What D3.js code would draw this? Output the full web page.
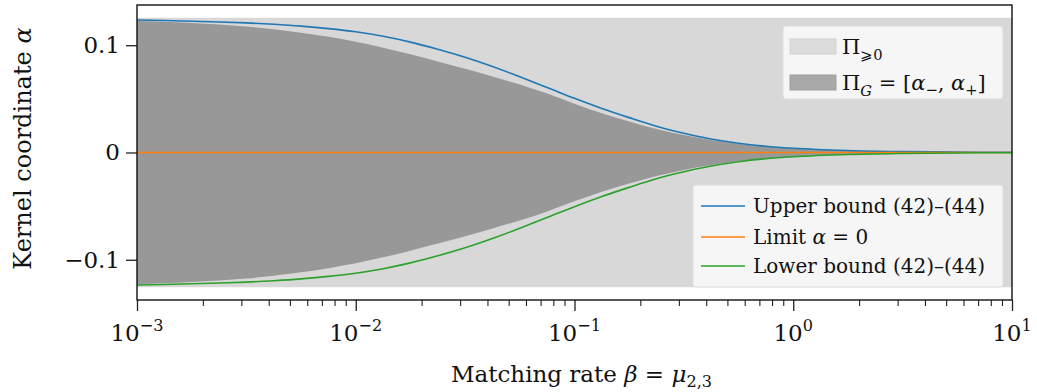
<!DOCTYPE html>
<html>
<head>
<meta charset="utf-8">
<script src="https://cdn.jsdelivr.net/npm/d3@7"></script>
<style>
  html, body { margin: 0; padding: 0; background: #ffffff; }
  svg { display: block; }
  svg text { font-family: "DejaVu Serif"; fill: #111; }
</style>
</head>
<body>
<svg id="chart" width="1037" height="392"></svg>
<script>
// ---------------- data ----------------
const beta = [0.001, 0.001334, 0.001778, 0.002371, 0.003162, 0.004217, 0.005623, 0.007499,
  0.01, 0.01334, 0.01778, 0.02371, 0.03162, 0.04217, 0.05623, 0.07499,
  0.1, 0.1334, 0.1778, 0.2371, 0.3162, 0.4217, 0.5623, 0.7499,
  1, 1.778, 3.162, 5.623, 10];
const upperBound = [0.1235, 0.1230, 0.1224, 0.1217, 0.1208, 0.1195, 0.1178, 0.1155,
  0.1125, 0.1083, 0.1029, 0.0963, 0.0888, 0.0802, 0.0706, 0.0606,
  0.0505, 0.0410, 0.0325, 0.0245, 0.0180, 0.0126, 0.0086, 0.0058,
  0.0040, 0.0019, 0.0009, 0.0004, 0.0002];
const lowerBound = [-0.1235, -0.1230, -0.1224, -0.1217, -0.1208, -0.1195, -0.1178, -0.1155,
  -0.1125, -0.1083, -0.1029, -0.0963, -0.0888, -0.0802, -0.0706, -0.0606,
  -0.0505, -0.0410, -0.0325, -0.0245, -0.0180, -0.0126, -0.0086, -0.0058,
  -0.0040, -0.0019, -0.0009, -0.0004, -0.0002];
const alphaPlus = [0.1226, 0.1219, 0.1208, 0.1194, 0.1175, 0.1149, 0.1117, 0.1078,
  0.1032, 0.0977, 0.0915, 0.0849, 0.0780, 0.0708, 0.0633, 0.0549,
  0.0455, 0.0366, 0.0290, 0.0220, 0.0162, 0.0117, 0.0081, 0.0056,
  0.0039, 0.0019, 0.0009, 0.0004, 0.0002];
const alphaMinus = [-0.1226, -0.1219, -0.1208, -0.1194, -0.1175, -0.1149, -0.1117, -0.1078,
  -0.1032, -0.0977, -0.0915, -0.0849, -0.0780, -0.0708, -0.0633, -0.0549,
  -0.0455, -0.0366, -0.0290, -0.0220, -0.0162, -0.0117, -0.0081, -0.0056,
  -0.0039, -0.0019, -0.0009, -0.0004, -0.0002];
const limitAlpha = [0, 0, 0, 0, 0, 0, 0, 0, 0, 0, 0, 0, 0, 0, 0, 0, 0, 0, 0, 0, 0, 0, 0, 0, 0, 0, 0, 0, 0];
const piRange = [-0.1256, 0.1256];
const xTickValues = [0.001, 0.01, 0.1, 1, 10];
const xTickExponents = ["−3", "−2", "−1", "0", "1"];
const yTickValues = [-0.1, 0, 0.1];
const yTickLabels = ["−0.1", "0", "0.1"];
const xDomain = [0.001, 10];
const yDomain = [-0.1375, 0.1375];

// ---------------- layout ----------------
const L = 137, R = 1012, T = 5, B = 300;
const FS = 23, LFS = 20;
const FONT = "DejaVu Serif";
const svg = d3.select("#chart");

const x = d3.scaleLog().domain(xDomain).range([L, R]);
const y = d3.scaleLinear().domain(yDomain).range([B, T]);

const rows = beta.map((b, i) => ({
  b, up: upperBound[i], lo: lowerBound[i], ap: alphaPlus[i], am: alphaMinus[i], lim: limitAlpha[i]
}));

const curve = d3.curveMonotoneX;

svg.append("rect")
  .attr("x", x(xDomain[0])).attr("width", x(xDomain[1]) - x(xDomain[0]))
  .attr("y", y(piRange[1])).attr("height", y(piRange[0]) - y(piRange[1]))
  .attr("fill", "#d8d8d8");

svg.append("path").datum(rows)
  .attr("fill", "#989898")
  .attr("d", d3.area().curve(curve).x(d => x(d.b)).y0(d => y(d.am)).y1(d => y(d.ap)));

const lineDefs = [
  {key: "up", color: "#1f77b4"},
  {key: "lim", color: "#ff7f0e"},
  {key: "lo", color: "#2ca02c"}
];
lineDefs.forEach(ld => {
  svg.append("path").datum(rows)
    .attr("fill", "none")
    .attr("stroke", ld.color)
    .attr("stroke-width", 1.6)
    .attr("d", d3.line().curve(curve).x(d => x(d.b)).y(d => y(d[ld.key])));
});

// ---------------- axes ----------------
const xAxis = svg.append("g").attr("transform", `translate(0,${B})`)
  .call(d3.axisBottom(x).tickValues(xTickValues).tickSize(11).tickFormat(""));
xAxis.select(".domain").remove();
xAxis.selectAll("line").attr("stroke", "#222").attr("stroke-width", 1.3);

const minor = [];
for (let e = -3; e < 1; e++) for (let k = 2; k <= 9; k++) minor.push(k * Math.pow(10, e));
const xMinor = svg.append("g").attr("transform", `translate(0,${B})`)
  .call(d3.axisBottom(x).tickValues(minor).tickSize(6).tickFormat(""));
xMinor.select(".domain").remove();
xMinor.selectAll("line").attr("stroke", "#222").attr("stroke-width", 1.1);

xTickValues.forEach((v, i) => {
  const t = svg.append("text")
    .attr("x", x(v)).attr("y", 341)
    .attr("text-anchor", "middle")
    .attr("font-family", FONT)
    .attr("font-size", FS);
  t.append("tspan").text("10");
  t.append("tspan").attr("dy", -10).attr("font-size", FS * 0.7).text(xTickExponents[i]);
});

const yAxis = svg.append("g").attr("transform", `translate(${L},0)`)
  .call(d3.axisLeft(y).tickValues(yTickValues).tickSize(11)
    .tickFormat((d, i) => yTickLabels[i]).tickPadding(6));
yAxis.attr("font-family", FONT);
yAxis.select(".domain").remove();
yAxis.selectAll("line").attr("stroke", "#222").attr("stroke-width", 1.3);
yAxis.selectAll("text")
  .attr("font-family", FONT)
  .attr("font-size", FS).attr("fill", "#111");

svg.append("rect")
  .attr("x", L).attr("y", T).attr("width", R - L).attr("height", B - T)
  .attr("fill", "none").attr("stroke", "#111").attr("stroke-width", 1.4);

const xl = svg.append("text")
  .attr("x", (L + R) / 2 + 7).attr("y", 382)
  .attr("text-anchor", "middle").attr("font-size", FS).attr("font-family", FONT);
xl.append("tspan").text("Matching rate ");
xl.append("tspan").attr("font-style", "italic").text("β");
xl.append("tspan").text(" = ");
xl.append("tspan").attr("font-style", "italic").text("μ");
xl.append("tspan").attr("dy", 5).attr("font-size", FS * 0.7).text("2,3");

const yl = svg.append("text")
  .attr("transform", `translate(31,${(T + B) / 2 - 4}) rotate(-90)`)
  .attr("text-anchor", "middle").attr("font-size", 24).attr("font-family", FONT);
yl.append("tspan").text("Kernel coordinate ");
yl.append("tspan").attr("font-style", "italic").text("α");

// ---------------- legends ----------------
const lg1 = svg.append("g").attr("font-family", FONT);
lg1.append("rect").attr("x", 783).attr("y", 26).attr("width", 220).attr("height", 73)
  .attr("rx", 3).attr("fill", "#f6f6f6").attr("stroke", "#dddddd").attr("stroke-width", 1);
lg1.append("rect").attr("x", 790).attr("y", 39).attr("width", 46).attr("height", 15)
  .attr("fill", "#dcdcdc").attr("stroke", "#d2d2d2");
lg1.append("rect").attr("x", 790).attr("y", 75).attr("width", 46).attr("height", 15)
  .attr("fill", "#a9a9a9").attr("stroke", "#a0a0a0");
const t1 = lg1.append("text").attr("x", 842).attr("y", 54).attr("font-size", 21);
t1.append("tspan").text("Π");
t1.append("tspan").attr("dy", 6).attr("font-size", 21 * 0.7).text("⩾0");
const t2 = lg1.append("text").attr("x", 842).attr("y", 90).attr("font-size", 21);
t2.append("tspan").text("Π");
t2.append("tspan").attr("dy", 6).attr("font-size", 21 * 0.7).attr("font-style", "italic").text("G");
t2.append("tspan").attr("dy", -6).text(" = [");
t2.append("tspan").attr("font-style", "italic").text("α");
t2.append("tspan").attr("dy", 5).attr("font-size", 21 * 0.7).text("−");
t2.append("tspan").attr("dy", -5).text(", ");
t2.append("tspan").attr("font-style", "italic").text("α");
t2.append("tspan").attr("dy", 5).attr("font-size", 21 * 0.7).text("+");
t2.append("tspan").attr("dy", -5).text("]");

const lg2 = svg.append("g").attr("font-family", FONT);
lg2.append("rect").attr("x", 693).attr("y", 185).attr("width", 310).attr("height", 102)
  .attr("rx", 3).attr("fill", "#f6f6f6").attr("stroke", "#dddddd").attr("stroke-width", 1);
const entries = [
  {color: "#1f77b4", yy: 206, parts: [["Upper bound (42)–(44)", false]]},
  {color: "#ff7f0e", yy: 237, parts: [["Limit ", false], ["α", true], [" = 0", false]]},
  {color: "#2ca02c", yy: 266, parts: [["Lower bound (42)–(44)", false]]}
];
entries.forEach(e => {
  lg2.append("line").attr("x1", 701).attr("x2", 745).attr("y1", e.yy).attr("y2", e.yy)
    .attr("stroke", e.color).attr("stroke-width", 1.6);
  const t = lg2.append("text").attr("x", 753).attr("y", e.yy + 7).attr("font-size", LFS);
  e.parts.forEach(p => t.append("tspan").attr("font-style", p[1] ? "italic" : null).text(p[0]));
});
</script>
</body>
</html>
